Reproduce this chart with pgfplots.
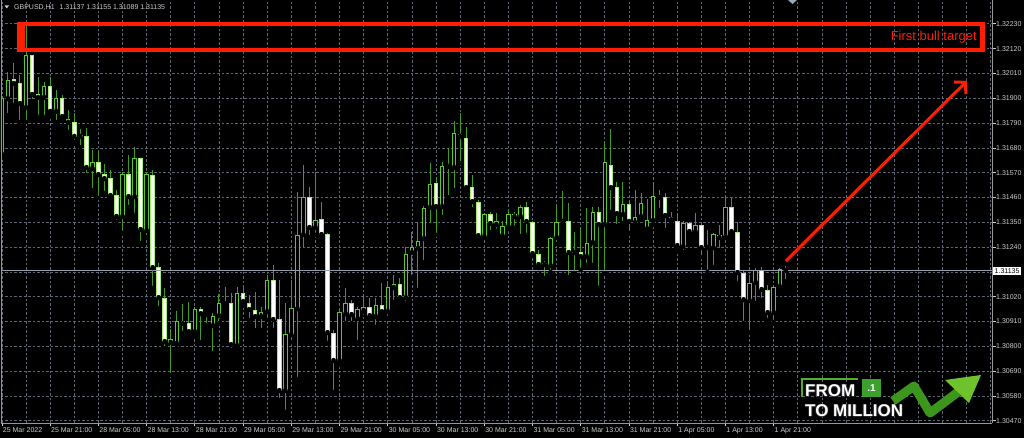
\documentclass[border=0pt]{standalone}
\usepackage{pgfplots}
\pgfplotsset{compat=1.18}
\usepackage{pgfplotstable}
\usepackage{fontspec}
\setmainfont{Liberation Sans}
\usetikzlibrary{arrows.meta}
\definecolor{wick}{RGB}{65,155,30}
\definecolor{bullline}{RGB}{90,200,40}
\definecolor{bearline}{RGB}{160,240,110}
\definecolor{gridc}{RGB}{95,102,115}
\definecolor{lab}{RGB}{205,205,205}
\definecolor{redc}{RGB}{255,30,0}
\definecolor{axc}{RGB}{150,150,150}
\definecolor{bidc}{RGB}{150,158,168}
\definecolor{logog}{RGB}{80,175,40}
\definecolor{shiftc}{RGB}{150,170,190}
\definecolor{sqg}{RGB}{60,160,45}
\definecolor{shad}{RGB}{40,40,40}
\definecolor{arrg}{RGB}{60,150,30}
\definecolor{headg}{RGB}{110,195,45}

\pgfplotstableread{
i o h l c
0 1.31649 1.31915 1.31635 1.31902
1 1.31897 1.32017 1.31826 1.31982
4 1.31857 1.32226 1.31795 1.32092
7 1.31902 1.31973 1.31817 1.31955
9 1.31840 1.31937 1.31795 1.31902
11 1.31791 1.31848 1.31751 1.31809
15 1.31587 1.31671 1.31493 1.31618
20 1.31374 1.31573 1.31303 1.31564
22 1.31462 1.31684 1.31383 1.31635
24 1.31312 1.31573 1.31285 1.31564
28 1.30815 1.30877 1.30673 1.30832
29 1.30810 1.30957 1.30806 1.30912
32 1.30863 1.30974 1.30850 1.30965
35 1.30890 1.30948 1.30770 1.30934
36 1.30934 1.31032 1.30903 1.30992
37 1.30988 1.31063 1.30983 1.30992
39 1.30801 1.31063 1.30797 1.31036
43 1.30930 1.30974 1.30872 1.30952
44 1.30952 1.31116 1.30917 1.31094
47 1.30602 1.30992 1.30509 1.30855
48 1.30850 1.31094 1.30819 1.30970
49 1.30965 1.31485 1.30655 1.31294
50 1.31294 1.31604 1.31227 1.31462
52 1.31325 1.31573 1.31294 1.31360
56 1.30735 1.30965 1.30717 1.30952
57 1.30943 1.31059 1.30903 1.30992
59 1.30921 1.30974 1.30819 1.30965
60 1.30957 1.31028 1.30952 1.30974
62 1.30930 1.31014 1.30886 1.30983
64 1.30952 1.31081 1.30926 1.31063
65 1.31059 1.31116 1.30997 1.31076
67 1.31014 1.31241 1.30992 1.31209
68 1.31214 1.31307 1.31107 1.31241
69 1.31232 1.31347 1.31050 1.31267
70 1.31276 1.31423 1.31174 1.31414
71 1.31414 1.31613 1.31338 1.31520
73 1.31418 1.31618 1.31374 1.31600
74 1.31596 1.31680 1.31462 1.31600
75 1.31591 1.31800 1.31493 1.31746
80 1.31285 1.31391 1.31281 1.31387
82 1.31338 1.31391 1.31312 1.31356
83 1.31289 1.31356 1.31272 1.31334
84 1.31329 1.31405 1.31320 1.31387
86 1.31374 1.31427 1.31289 1.31418
91 1.31156 1.31285 1.31130 1.31281
92 1.31281 1.31427 1.31254 1.31352
93 1.31352 1.31489 1.31347 1.31356
95 1.31214 1.31307 1.31125 1.31218
97 1.31196 1.31414 1.31161 1.31258
98 1.31258 1.31418 1.31161 1.31396
100 1.31338 1.31706 1.31125 1.31618
103 1.31383 1.31529 1.31347 1.31431
105 1.31347 1.31493 1.31329 1.31374
106 1.31374 1.31480 1.31360 1.31436
107 1.31320 1.31454 1.31312 1.31360
108 1.31356 1.31529 1.31338 1.31467
113 1.31241 1.31356 1.31218 1.31347
115 1.31307 1.31391 1.31298 1.31338
118 1.31236 1.31303 1.31152 1.31298
120 1.31285 1.31462 1.31281 1.31418
124 1.31001 1.31116 1.30863 1.31081
125 1.31081 1.31147 1.30992 1.31139
128 1.30948 1.31072 1.30908 1.31063
129 1.31063 1.31147 1.31059 1.31143
}\bull

\pgfplotstableread{
i o h l c
2 1.31986 1.32057 1.31871 1.31964
3 1.31968 1.32004 1.31795 1.31875
5 1.32092 1.32092 1.31888 1.31915
6 1.31919 1.31995 1.31817 1.31902
8 1.31955 1.31995 1.31826 1.31840
10 1.31902 1.31915 1.31817 1.31817
12 1.31795 1.31835 1.31706 1.31729
13 1.31738 1.31764 1.31684 1.31729
14 1.31733 1.31769 1.31560 1.31591
16 1.31618 1.31666 1.31458 1.31560
17 1.31564 1.31609 1.31480 1.31542
18 1.31547 1.31582 1.31462 1.31467
19 1.31471 1.31493 1.31352 1.31374
21 1.31564 1.31649 1.31418 1.31462
23 1.31635 1.31635 1.31258 1.31316
25 1.31560 1.31582 1.31059 1.31147
26 1.31152 1.31170 1.30970 1.31014
27 1.31014 1.31059 1.30792 1.30819
30 1.30912 1.30988 1.30859 1.30899
31 1.30903 1.30997 1.30859 1.30863
33 1.30965 1.30974 1.30819 1.30943
34 1.30943 1.30952 1.30894 1.30939
38 1.30992 1.31036 1.30784 1.30806
40 1.31036 1.31063 1.30983 1.30997
41 1.30992 1.31028 1.30917 1.30961
42 1.30961 1.31041 1.30872 1.30930
45 1.31094 1.31161 1.30872 1.30917
46 1.30921 1.31094 1.30562 1.30602
51 1.31462 1.31507 1.31285 1.31325
53 1.31365 1.31440 1.31285 1.31294
54 1.31298 1.31303 1.30815 1.30859
55 1.30859 1.30872 1.30597 1.30735
58 1.30992 1.31005 1.30903 1.30939
61 1.30974 1.31014 1.30930 1.30934
63 1.30983 1.31081 1.30939 1.30952
66 1.31076 1.31103 1.30997 1.31014
72 1.31525 1.31547 1.31294 1.31418
76 1.31742 1.31835 1.31613 1.31729
77 1.31724 1.31773 1.31493 1.31502
78 1.31507 1.31560 1.31409 1.31440
79 1.31440 1.31449 1.31272 1.31289
81 1.31387 1.31396 1.31307 1.31343
85 1.31387 1.31396 1.31325 1.31374
87 1.31418 1.31440 1.31294 1.31352
88 1.31352 1.31356 1.31205 1.31209
89 1.31209 1.31227 1.31147 1.31161
90 1.31170 1.31178 1.31103 1.31161
94 1.31356 1.31436 1.31107 1.31214
96 1.31218 1.31329 1.31139 1.31196
99 1.31396 1.31418 1.31059 1.31338
101 1.31604 1.31764 1.31396 1.31502
102 1.31507 1.31529 1.31334 1.31387
104 1.31431 1.31449 1.31303 1.31352
109 1.31467 1.31493 1.31405 1.31458
110 1.31462 1.31480 1.31316 1.31378
111 1.31374 1.31396 1.31352 1.31360
112 1.31356 1.31391 1.31227 1.31245
114 1.31347 1.31352 1.31294 1.31307
116 1.31338 1.31347 1.31196 1.31236
117 1.31241 1.31316 1.31130 1.31236
119 1.31294 1.31338 1.31227 1.31281
121 1.31418 1.31458 1.31303 1.31307
122 1.31307 1.31352 1.31081 1.31125
123 1.31125 1.31139 1.30903 1.31005
126 1.31139 1.31152 1.31005 1.31050
127 1.31050 1.31072 1.30917 1.30948
130 1.31137 1.31155 1.31089 1.31135
}\bear

\begin{document}
\begin{tikzpicture}
\fill[black] (0pt,0pt) rectangle (1024pt,438pt);
\useasboundingbox (0pt,0pt) rectangle (1024pt,438pt);
\begin{axis}[
  at={(1pt,15pt)}, anchor=south west,
  width=991pt, height=423pt, scale only axis,
  xmin=-0.15, xmax=164.2, ymin=1.30460, ymax=1.32336,
  axis x line*=bottom, axis y line*=right,
  axis line style={draw=axc, line width=0.8pt},
  xtick={0,8,...,128},
  xticklabels={25 Mar 2022, 25 Mar 21:00, 28 Mar 05:00, 28 Mar 13:00, 28 Mar 21:00, 29 Mar 05:00, 29 Mar 13:00, 29 Mar 21:00, 30 Mar 05:00, 30 Mar 13:00, 30 Mar 21:00, 31 Mar 05:00, 31 Mar 13:00, 31 Mar 21:00, 1 Apr 05:00, 1 Apr 13:00, 1 Apr 21:00},
  minor xtick={4,12,20,28,36,44,52,60,68,76,84,92,100,108,116,124,132,136,140,144,148,152,156,160,164},
  ytick={1.3047,1.3058,1.3069,1.3080,1.3091,1.3102,1.3113,1.3124,1.3135,1.3146,1.3157,1.3168,1.3179,1.3190,1.3201,1.3212,1.3223},
  yticklabels={1.30470,1.30580,1.30690,1.30800,1.30910,1.31020,{},1.31240,1.31350,1.31460,1.31570,1.31680,1.31790,1.31900,1.32010,1.32120,1.32230},
  xmajorgrids, xminorgrids, ymajorgrids,
  grid style={draw=gridc, line width=0.8pt, dash pattern=on 2.5pt off 2pt},
  minor grid style={draw=gridc, line width=0.8pt, dash pattern=on 2.5pt off 2pt},
  tick align=outside, major tick length=3.5pt, minor tick length=0pt,
  tick style={draw=lab, line width=0.8pt},
  xticklabel style={font=\fontsize{7}{8}\selectfont, text=lab, anchor=north west, inner sep=0pt, xshift=0.8pt, yshift=-1pt},
  yticklabel style={font=\fontsize{7}{8}\selectfont, text=lab, anchor=west, inner sep=0pt, xshift=0.5pt},
]
% wicks
\addplot[only marks, mark=none, forget plot, error bars/.cd, y dir=plus, y explicit, error mark=none,
  error bar style={line width=1pt, draw=wick}]
  table[x=i, y=l, y error expr=\thisrow{h}-\thisrow{l}] {\bull};
\addplot[only marks, mark=none, forget plot, error bars/.cd, y dir=plus, y explicit, error mark=none,
  error bar style={line width=1pt, draw=wick}]
  table[x=i, y=l, y error expr=\thisrow{h}-\thisrow{l}] {\bear};
% bull bodies
\addplot[only marks, mark=none, forget plot, error bars/.cd, y dir=plus, y explicit, error mark=none,
  error bar style={line width=4.5pt, draw=bullline}]
  table[x=i, y expr={min(\thisrow{o},\thisrow{c})}, y error expr={max(abs(\thisrow{c}-\thisrow{o}),0.00005)}] {\bull};
\addplot[only marks, mark=none, forget plot, error bars/.cd, y dir=plus, y explicit, error mark=none,
  error bar style={line width=2.5pt, draw=black}]
  table[x=i, y expr={min(\thisrow{o},\thisrow{c})+0.00004}, y error expr={max(abs(\thisrow{c}-\thisrow{o})-0.00008,0)}] {\bull};
% bear bodies
\addplot[only marks, mark=none, forget plot, error bars/.cd, y dir=plus, y explicit, error mark=none,
  error bar style={line width=4.5pt, draw=bearline}]
  table[x=i, y expr={min(\thisrow{o},\thisrow{c})}, y error expr={max(abs(\thisrow{c}-\thisrow{o}),0.00005)}] {\bear};
\addplot[only marks, mark=none, forget plot, error bars/.cd, y dir=plus, y explicit, error mark=none,
  error bar style={line width=2.5pt, draw=white}]
  table[x=i, y expr={min(\thisrow{o},\thisrow{c})+0.00004}, y error expr={max(abs(\thisrow{c}-\thisrow{o})-0.00008,0)}] {\bear};
% bid line
\addplot[bidc, line width=0.9pt, mark=none] coordinates {(-0.15,1.31135) (164.2,1.31135)};
% target box
\draw[redc, line width=3.8pt] (axis cs:3.3,1.32230) rectangle (axis cs:162.6,1.32114);
\fill[redc] (axis cs:2.5,1.32239) rectangle (axis cs:3.83,1.32105);
\fill[redc] (axis cs:162.2,1.32239) rectangle (axis cs:163.05,1.32105);
\node[anchor=east, inner sep=0pt, text=redc, font=\fontsize{13}{13}\selectfont] at (axis cs:161.7,1.32170) {First bull target};
% arrow
\draw[redc, line width=3pt, -{Straight Barb[length=8pt,width=17pt]}] (axis cs:130,1.31178) -- (axis cs:160.05,1.31977);
\coordinate (bid) at (axis cs:164.2,1.31135);
\end{axis}
% left border
\draw[axc, line width=0.8pt] (1.4pt,15pt) -- (1.4pt,438pt);
% bid label
\node[anchor=west, fill=white, text=black, inner xsep=1.5pt, inner ysep=1.6pt, font=\fontsize{7}{8}\selectfont, xshift=1pt] at (bid) {1.31135};
% header
\fill[lab] (4.5pt,432.5pt) -- (9pt,432.5pt) -- (6.75pt,429.5pt) -- cycle;
\node[anchor=west, inner sep=0pt, text=lab, font=\fontsize{7}{8}\selectfont] at (14pt,430.8pt) {GBPUSD,H1\hspace{5pt}1.31137 1.31155 1.31089 1.31135};
\fill[shiftc] (788pt,438pt) -- (797pt,438pt) -- (792.5pt,434pt) -- cycle;
% logo
\draw[logog, line width=1.5pt] (802pt,41pt) -- (802pt,59pt) -- (858pt,59pt);
\fill[sqg] (862pt,41pt) rectangle (881pt,59pt);
\node[text=white, font=\fontsize{10}{10}\selectfont\bfseries, inner sep=0pt] at (871.5pt,50pt) {.1};
\foreach \dx/\dy in {-0.9/0,0.9/0,0/-0.9,0/0.9} {
  \node[anchor=base west, inner sep=0pt, text=shad, font=\fontsize{17}{17}\selectfont\bfseries, xshift=\dx pt, yshift=\dy pt] at (805pt,41pt) {FROM};
  \node[anchor=base west, inner sep=0pt, text=shad, font=\fontsize{17}{17}\selectfont\bfseries, xshift=\dx pt, yshift=\dy pt] at (805pt,21pt) {TO MILLION};
}
\node[anchor=base west, inner sep=0pt, text=white, font=\fontsize{17}{17}\selectfont\bfseries] at (805pt,41pt) {FROM};
\node[anchor=base west, inner sep=0pt, text=white, font=\fontsize{17}{17}\selectfont\bfseries] at (805pt,21pt) {TO MILLION};
\draw[arrg, line width=9pt, line join=round] (893pt,37pt) -- (914pt,52pt) -- (930pt,25pt) -- (958pt,46pt);
\fill[headg] (981pt,63pt) -- (945pt,58pt) -- (969pt,35pt) -- cycle;
\end{tikzpicture}
\end{document}
